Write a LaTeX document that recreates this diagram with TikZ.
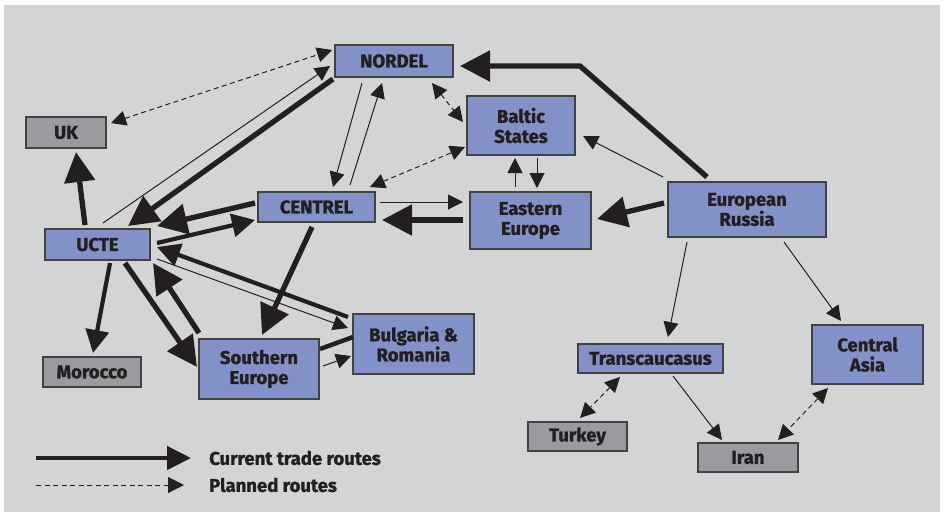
\documentclass[tikz,border=0pt]{standalone}
\usepackage{fontspec}
\setmainfont{Fira Sans}[BoldFeatures={FakeBold=1.3}]
\usetikzlibrary{arrows.meta}
\definecolor{bg}{HTML}{D3D4D6}
\definecolor{boxblue}{HTML}{8391C9}
\definecolor{boxgrey}{HTML}{9A9B9F}
\definecolor{ink}{HTML}{231F20}
\tikzset{
 box/.style={draw=ink!85, line width=1.2pt, fill=boxblue, text=ink, font=\fontsize{18.5}{20}\selectfont\bfseries, align=center, inner sep=0pt},
 gbox/.style={box, fill=boxgrey},
 tradeB/.style={draw=ink, line width=5.3pt, -{Triangle[length=30pt,width=30pt]}},
 tradeM/.style={draw=ink, line width=4.2pt, -{Triangle[length=23pt,width=23pt]}},
 tradeN/.style={draw=ink, line width=4.5pt},
 tradeT/.style={draw=ink, line width=1pt, -{Triangle[length=15pt,width=15pt]}},
 planned/.style={draw=ink, line width=1pt, dash pattern=on 5pt off 3.5pt, {Triangle[length=15pt,width=15pt]}-{Triangle[length=15pt,width=15pt]}},
 legtext/.style={anchor=west, text=ink, font=\fontsize{18.5}{20}\selectfont\bfseries, inner sep=0pt},
}
\begin{document}
\begin{tikzpicture}[x=1pt,y=-1pt]
\useasboundingbox (0,0) rectangle (944,515);
\fill[white] (0,0) rectangle (944,515);
\fill[bg] (4,5) rectangle (940,512);

% nodes
\node[box, minimum width=118, minimum height=32] (nordel) at (394,61) {NORDEL};
\node[gbox, minimum width=80, minimum height=31] (uk) at (66,132.5) {UK};
\node[box, minimum width=117, minimum height=30] (centrel) at (316.5,207) {CENTREL};
\node[box, minimum width=105, minimum height=31] (ucte) at (97.5,244.5) {UCTE};
\node[box, minimum width=108, minimum height=59] (baltic) at (521,125.5) {Baltic\\States};
\node[box, minimum width=121, minimum height=57] (eastern) at (530.5,220.5) {Eastern\\Europe};
\node[box, minimum width=158, minimum height=55] (erus) at (747,209.5) {European\\Russia};
\node[box, minimum width=120, minimum height=60] (south) at (259,369) {Southern\\Europe};
\node[box, minimum width=121, minimum height=60] (bulg) at (413.5,344) {Bulgaria \&\\Romania};
\node[gbox, minimum width=98, minimum height=30] (morocco) at (92,372) {Morocco};
\node[box, minimum width=145, minimum height=29] (trans) at (650.5,358.5) {Transcaucasus};
\node[box, minimum width=111, minimum height=59] (casia) at (867.5,354.5) {Central\\Asia};
\node[gbox, minimum width=99, minimum height=29] (turkey) at (577.5,436.5) {Turkey};
\node[gbox, minimum width=100, minimum height=29] (iran) at (748,457.5) {Iran};

% connectors
\draw[planned] ([shift={(45,-9.5)}]uk.center) -- ([shift={(-62,-11)}]nordel.center);
\draw[tradeT] ([shift={(5.5,-21.5)}]ucte.center) -- ([shift={(-64,5)}]nordel.center);
\draw[tradeB] ([shift={(-61,18)}]nordel.center) -- ([shift={(30.5,-18.5)}]ucte.center);
\draw[tradeT] ([shift={(-32,22)}]nordel.center) -- ([shift={(16.5,-20)}]centrel.center);
\draw[tradeT] ([shift={(33.5,-22)}]centrel.center) -- ([shift={(-12,22)}]nordel.center);
\draw[planned] ([shift={(38,22)}]nordel.center) -- ([shift={(-58,-3.5)}]baltic.center);
\draw[planned] ([shift={(53.5,-20)}]centrel.center) -- ([shift={(-56,21.5)}]baltic.center);
\draw[tradeT] ([shift={(63.5,-5)}]centrel.center) -- ([shift={(-67.5,-18.5)}]eastern.center);
\draw[tradeB] ([shift={(-67.5,-0.5)}]eastern.center) -- ([shift={(65.5,13)}]centrel.center);
\draw[tradeB] ([shift={(-61.5,-4)}]centrel.center) -- ([shift={(59.5,-18.5)}]ucte.center);
\draw[tradeM] ([shift={(59.5,-1.5)}]ucte.center) -- ([shift={(-61.5,13)}]centrel.center);
\draw[tradeB] ([shift={(-12.5,-19.5)}]ucte.center) -- ([shift={(10,19.5)}]uk.center);
\draw[tradeM] ([shift={(12.5,18.5)}]ucte.center) -- ([shift={(1,-19)}]morocco.center);
\draw[tradeB] ([shift={(27.5,18.5)}]ucte.center) -- ([shift={(-62,-2)}]south.center);
\draw[tradeB] ([shift={(-60,-36)}]south.center) -- ([shift={(55.5,18.5)}]ucte.center);
\draw[tradeB] ([shift={(-4.5,20)}]centrel.center) -- ([shift={(3,-34)}]south.center);
\draw[tradeM] ([shift={(-65.5,-27)}]bulg.center) -- ([shift={(59.5,2.5)}]ucte.center);
\draw[tradeT] ([shift={(59.5,14.5)}]ucte.center) -- ([shift={(-65.5,-16)}]bulg.center);
\draw[tradeN] ([shift={(-60.5,-7)}]bulg.center) -- ([shift={(61,-20)}]south.center);
\draw[tradeT] ([shift={(64,-3)}]south.center) -- ([shift={(-62.5,12)}]bulg.center);
\draw[tradeB] ([shift={(-40,-32.5)}]erus.center) -- ([shift={(186,5)}]nordel.center) -- ([shift={(66,5)}]nordel.center);
\draw[tradeT] ([shift={(-84,-32.5)}]erus.center) -- ([shift={(62,10.5)}]baltic.center);
\draw[tradeB] ([shift={(-83,-6.5)}]erus.center) -- ([shift={(66.5,-1.5)}]eastern.center);
\draw[tradeT] ([shift={(-15.5,-33.5)}]eastern.center) -- ([shift={(-6,32.5)}]baltic.center);
\draw[tradeT] ([shift={(16,32.5)}]baltic.center) -- ([shift={(6.5,-32.5)}]eastern.center);
\draw[tradeT] ([shift={(-60,32.5)}]erus.center) -- ([shift={(17.5,-21.5)}]trans.center);
\draw[tradeT] ([shift={(37,32.5)}]erus.center) -- ([shift={(-26.5,-33.5)}]casia.center);
\draw[planned] ([shift={(-30.5,18.5)}]trans.center) -- ([shift={(2.5,-18.5)}]turkey.center);
\draw[tradeT] ([shift={(22.5,17.5)}]trans.center) -- ([shift={(-26,-17.5)}]iran.center);
\draw[planned] ([shift={(-39.5,33.5)}]casia.center) -- ([shift={(30,-17.5)}]iran.center);

% legend
\coordinate (la1) at (36,458);
\coordinate (la2) at (191,458);
\coordinate (lb1) at (36,485);
\coordinate (lb2) at (184,485);
\draw[draw=ink, line width=4.5pt, -{Triangle[length=24pt,width=23pt]}] (la1) -- (la2);
\draw[draw=ink, line width=1pt, dash pattern=on 5pt off 3.5pt, -{Triangle[length=16pt,width=16pt]}] (lb1) -- (lb2);
\node[legtext] (lt1) at (209,458) {Current trade routes};
\node[legtext] (lt2) at (209,485) {Planned routes};
\end{tikzpicture}
\end{document}
